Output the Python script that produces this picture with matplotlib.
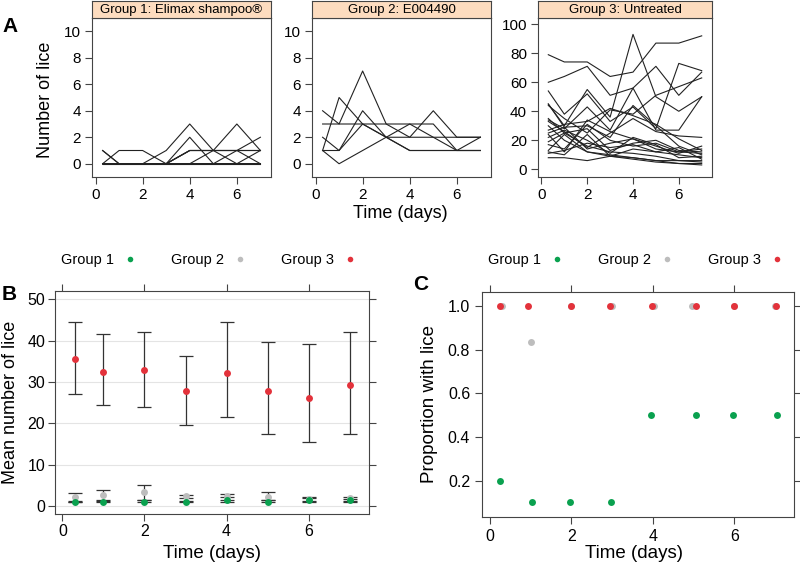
import matplotlib
matplotlib.use("Agg")
import matplotlib.pyplot as plt
from matplotlib.lines import Line2D

plt.rcParams['font.family'] = ['Liberation Sans', 'DejaVu Sans']

times = [0.3, 1, 2, 3, 4, 5, 6, 7]
xticks = [0, 2, 4, 6]

# panel A: lice counts per person
group1_lice = [
    [1, 0, 0, 0, 0, 0, 0, 0],
    [1, 0, 0, 0, 0, 0, 0, 0],
    [0, 1, 1, 0, 0, 0, 0, 0],
    [0, 0, 0, 1, 3, 1, 3, 1],
    [0, 0, 0, 0, 2, 0, 1, 2],
    [0, 0, 0, 0, 1, 1, 1, 1],
    [0, 0, 0, 0, 1, 1, 1, 0],
    [0, 0, 0, 0, 1, 1, 1, 1],
    [0, 0, 0, 0, 0, 1, 0, 1],
    [0, 0, 0, 0, 0, 0, 0, 0],
]
group2_lice = [
    [4, 3, 3, 3, 3, 3, 1, 2],
    [1, 5, 3, 2, 2, 2, 2, 2],
    [1, 0, 1, 2, 3, 2, 1, 1],
    [2, 1, 3, 2, 1, 1, 1, 1],
    [3, 3, 7, 3, 2, 4, 2, 2],
    [1, 1, 4, 2, 1, 1, 1, 1],
]
group3_lice = [
    [79, 74, 74, 64, 67, 87, 87, 92],
    [60, 64, 71, 51, 56, 71, 51, 67],
    [54, 38, 52, 33, 43, 28, 73, 68],
    [45, 30, 55, 36, 93, 50, 40, 50],
    [44, 35, 25, 41, 38, 51, 57, 63],
    [34, 28, 43, 27, 56, 27, 27, 50],
    [33, 26, 15, 25, 35, 26, 23, 22],
    [27, 31, 33, 42, 37, 31, 21, 13],
    [25, 29, 14, 18, 21, 16, 11, 16],
    [24, 12, 34, 26, 21, 14, 12, 11],
    [22, 27, 20, 11, 22, 17, 8, 9],
    [19, 25, 28, 13, 18, 20, 13, 12],
    [13, 24, 12, 9, 7, 5, 4, 3],
    [12, 10, 24, 9, 14, 12, 15, 7],
    [8, 8, 6, 9, 8, 6, 6, 5],
    [30, 20, 12, 10, 8, 6, 4, 4],
    [35, 25, 16, 12, 11, 9, 6, 6],
    [45, 29, 30, 22, 44, 30, 16, 10],
    [17, 14, 31, 20, 16, 18, 12, 14],
    [11, 13, 18, 15, 17, 12, 10, 8],
]
strip_titles = ["Group 1: Elimax shampoo\u00ae", "Group 2: E004490", "Group 3: Untreated"]

# panel B: mean number of lice with intervals
g1_mean = [1.0, 1.1, 1.1, 1.1, 1.6, 1.1, 1.4, 1.4]
g1_lo = [1.0, 1.0, 1.0, 1.0, 1.1, 1.0, 1.0, 1.1]
g1_hi = [1.0, 1.3, 1.6, 1.2, 2.2, 1.5, 1.9, 1.7]
g2_mean = [2.2, 2.8, 3.3, 2.5, 2.5, 2.3, 1.7, 1.9]
g2_lo = [1.3, 1.4, 1.6, 2.0, 1.5, 1.4, 1.3, 1.3]
g2_hi = [3.1, 3.9, 5.0, 2.7, 2.9, 3.3, 2.2, 2.1]
g3_mean = [35.6, 32.5, 32.8, 27.8, 32.3, 27.8, 26.2, 29.3]
g3_lo = [27.0, 24.4, 24.0, 19.5, 21.6, 17.5, 15.5, 17.4]
g3_hi = [44.5, 41.5, 42.2, 36.2, 44.5, 39.6, 39.2, 42.2]

# panel C: proportion with lice
g1_prop = [0.2, 0.1, 0.1, 0.1, 0.5, 0.5, 0.5, 0.5]
g2_prop = [1.0, 0.833, 1.0, 1.0, 1.0, 1.0, 1.0, 1.0]
g3_prop = [1.0, 1.0, 1.0, 1.0, 1.0, 1.0, 1.0, 1.0]
g1_jit = [-0.06, 0.03, -0.04, -0.03, -0.05, 0.05, -0.03, 0.05]
g2_jit = [0.0, 0.0, 0.0, 0.0, 0.03, -0.05, 0.0, 0.0]
g3_jit = [-0.05, -0.07, 0.0, -0.04, -0.03, 0.05, -0.02, 0.03]

groups = ["Group 1", "Group 2", "Group 3"]
colors = ["#0aa14f", "#bdbdbd", "#e3323b"]
edge = "#444444"

W, H = 800, 565
fig = plt.figure(figsize=(8, 5.65), dpi=100)


def rect(l, t, r, b):
    return [l / W, 1 - b / H, (r - l) / W, (b - t) / H]


def style(ax, box=False):
    for s in ax.spines.values():
        s.set_color(edge)
    ax.tick_params(color=edge, length=5, width=0.8, direction='out')
    if box:
        ax.tick_params(top=True, right=True, labeltop=False, labelright=False)


# ---- panel A ----
a_boxes = [(92, 18, 271, 177), (312, 18, 491, 177), (538, 18, 712, 177)]
a_data = [group1_lice, group2_lice, group3_lice]
a_ylim = [(-1, 11), (-1, 11), (-5.3, 104.3)]
a_yticks = [range(0, 11, 2), range(0, 11, 2), range(0, 101, 20)]
for box, dat, ylim, yt, title in zip(a_boxes, a_data, a_ylim, a_yticks, strip_titles):
    ax = fig.add_axes(rect(*box))
    for row in dat:
        ax.plot(times, row, color='#222222', lw=0.8)
    ax.set_xlim(-0.15, 7.45)
    ax.set_ylim(*ylim)
    ax.set_xticks(xticks)
    ax.set_yticks(list(yt))
    ax.tick_params(labelsize=11, pad=3)
    style(ax)
    st = fig.add_axes(rect(box[0], 1, box[2], box[1]))
    st.set_facecolor('#fddcbf')
    st.set_xticks([])
    st.set_yticks([])
    for s in st.spines.values():
        s.set_color(edge)
    st.text(0.5, 0.45, title, ha='center', va='center', fontsize=9.5,
            transform=st.transAxes)

fig.text(10 / W, 1 - 27 / H, "A", fontsize=15, fontweight='bold', ha='center', va='center')
fig.text(46 / W, 1 - 100 / H, "Number of lice", fontsize=13, rotation=90,
         ha='center', va='center')
fig.text(400 / W, 1 - 213 / H, "Time (days)", fontsize=13, ha='center', va='center')

# ---- panel B ----
axb = fig.add_axes(rect(55, 291, 369, 514))
axb.set_xlim(-0.18, 7.47)
axb.set_ylim(-1.9, 52)
axb.set_xticks(xticks)
axb.set_yticks([0, 10, 20, 30, 40, 50])
axb.grid(axis='y', color='#e4e4e4', lw=0.8)
axb.set_axisbelow(True)
for m, lo, hi in [(g1_mean, g1_lo, g1_hi), (g2_mean, g2_lo, g2_hi), (g3_mean, g3_lo, g3_hi)]:
    err = [[a - b for a, b in zip(m, lo)], [b - a for a, b in zip(m, hi)]]
    axb.errorbar(times, m, yerr=err, fmt='none', ecolor='#333333', elinewidth=0.9,
                 capsize=5, capthick=0.9)
axb.plot(times, g2_mean, 'o', color=colors[1], ms=5, mec='none', zorder=3)
axb.plot(times, g1_mean, 'o', color=colors[0], ms=5, mec='none', zorder=3)
axb.plot(times, g3_mean, 'o', color=colors[2], ms=5, mec='none', zorder=3)
axb.tick_params(labelsize=11.5, pad=2)
style(axb, box=True)
fig.text(212 / W, 1 - 554 / H, "Time (days)", fontsize=13.5, ha='center', va='center')
fig.text(11 / W, 1 - 402 / H, "Mean number of lice", fontsize=13, rotation=90,
         ha='center', va='center')
fig.text(9 / W, 1 - 294 / H, "B", fontsize=15, fontweight='bold', ha='center', va='center')

# ---- panel C ----
axc = fig.add_axes(rect(482, 292, 794, 517))
axc.set_xlim(-0.19, 7.46)
axc.set_ylim(0.033, 1.064)
axc.set_xticks(xticks)
axc.set_yticks([0.2, 0.4, 0.6, 0.8, 1.0])
for prop, jit, c in [(g1_prop, g1_jit, colors[0]), (g2_prop, g2_jit, colors[1]),
                     (g3_prop, g3_jit, colors[2])]:
    axc.plot([t + j for t, j in zip(times, jit)], prop, 'o', color=c, ms=5, mec='none')
axc.tick_params(labelsize=11.5)
style(axc, box=True)
fig.text(634 / W, 1 - 554 / H, "Time (days)", fontsize=13.5, ha='center', va='center')
fig.text(430 / W, 1 - 404 / H, "Proportion with lice", fontsize=13.5, rotation=90,
         ha='center', va='center')
fig.text(421 / W, 1 - 285 / H, "C", fontsize=15, fontweight='bold', ha='center', va='center')

# legends
handles = [Line2D([], [], ls='none', marker='o', ms=4, color=c, mec='none') for c in colors]
for cx in (209, 636):
    fig.legend(handles, groups, loc='center', bbox_to_anchor=(cx / W, 1 - 260 / H),
               ncol=3, frameon=False, markerfirst=False, fontsize=10.5,
               handlelength=1, handletextpad=0.6, columnspacing=2.3)

fig.savefig("out.png", dpi=100)
